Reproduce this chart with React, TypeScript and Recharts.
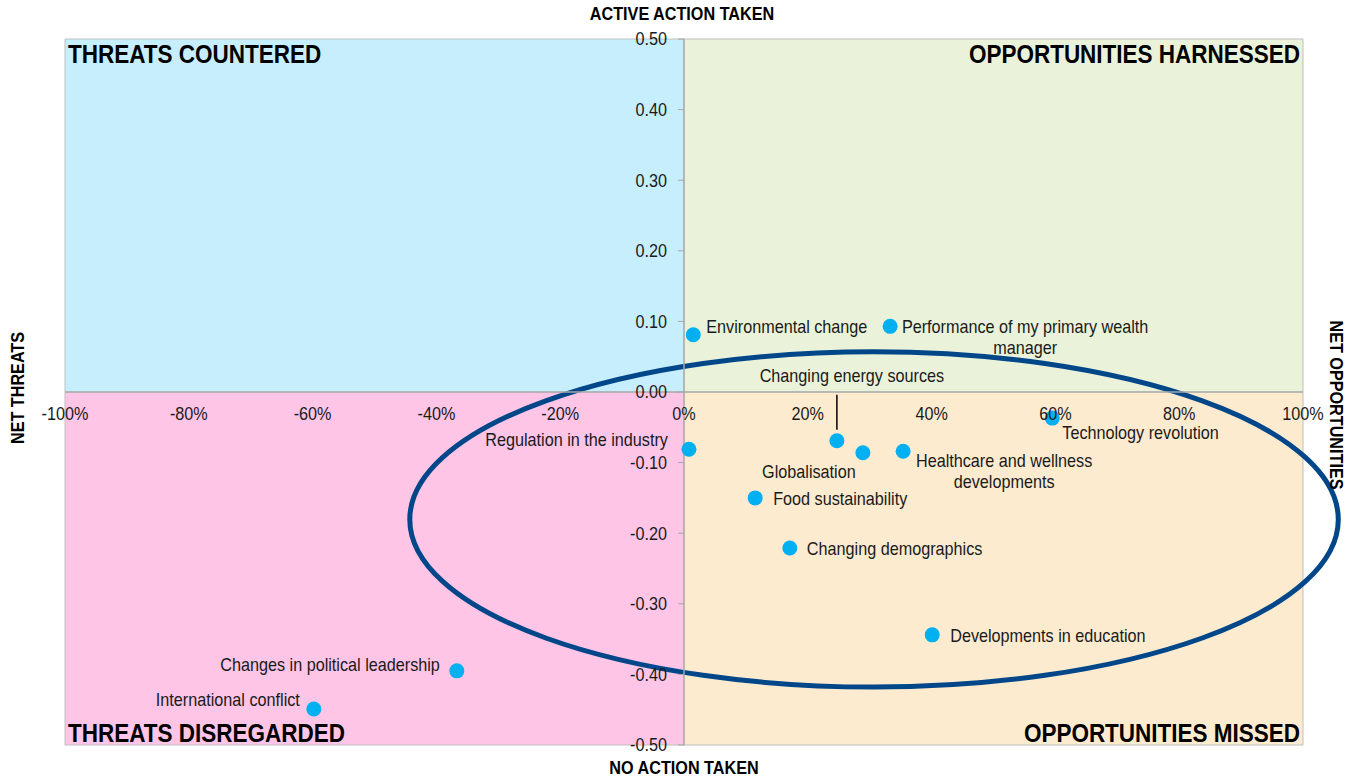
import { ScatterChart, Scatter, XAxis, YAxis, ReferenceArea, ReferenceLine } from 'recharts'

const names = [
    'Environmental change',
    'Performance of my primary wealth manager',
    'Technology revolution',
    'Regulation in the industry',
    'Changing energy sources',
    'Globalisation',
    'Healthcare and wellness developments',
    'Food sustainability',
    'Changing demographics',
    'Developments in education',
    'Changes in political leadership',
    'International conflict',
]
const actionValues = [0.015, 0.333, 0.595, 0.008, 0.247, 0.289, 0.354, 0.115, 0.171, 0.401, -0.367, -0.598]
const netValues = [0.081, 0.093, -0.037, -0.081, -0.069, -0.086, -0.084, -0.150, -0.221, -0.344, -0.395, -0.449]

const xTicks = [-1, -0.8, -0.6, -0.4, -0.2, 0, 0.2, 0.4, 0.6, 0.8, 1]
const yTicks = [0.5, 0.4, 0.3, 0.2, 0.1, 0, -0.1, -0.2, -0.3, -0.4, -0.5]

// highlighted cluster (ellipse bounds in data units)
const ringX = [-0.443, 1.057]
const ringY = [0.057, -0.418]

const data = names.map((name, i) => ({ name, x: actionValues[i], y: netValues[i] }))

const W = 1346
const H = 778
const AXIS_H = 30
const AXIS_W = 30
const MARGIN = { top: 39, right: 43, bottom: 33 - AXIS_H, left: 65 - AXIS_W }
const PLOT_W = W - 65 - MARGIN.right
const PLOT_H = H - MARGIN.top - 33
const FONT = 'Arial, "Liberation Sans", sans-serif'
const TXT = '#1a1a1a'
const SQUEEZE = 0.9

// narrow-looking text: regular sans squeezed horizontally
const NText = (props: any) => {
    const { x, y, anchor = 'start', size = 18, weight = 400, fill = TXT, lines, rotate = 0 } = props
    return (
        <g transform={`translate(${x} ${y}) rotate(${rotate}) scale(${SQUEEZE} 1)`}>
            <text x={0} y={0} textAnchor={anchor} dominantBaseline="central"
                fontFamily={FONT} fontSize={size} fontWeight={weight} fill={fill}>
                {lines.map((l: string, i: number) => (
                    <tspan key={i} x={0} dy={i === 0 ? 0 : 21}>{l}</tspan>
                ))}
            </text>
        </g>
    )
}

// label placement per point: dx, dy, anchor, optional line break, leader line
const placement: Record<string, any> = {
    'Environmental change': { dx: 13, dy: -8, anchor: 'start' },
    'Performance of my primary wealth manager': { dx: 135, dy: 0, anchor: 'middle', lines: ['Performance of my primary wealth', 'manager'] },
    'Technology revolution': { dx: 10, dy: 15, anchor: 'start' },
    'Regulation in the industry': { dx: -21, dy: -9, anchor: 'end' },
    'Changing energy sources': { dx: 15, dy: -65, anchor: 'middle', leader: true },
    'Globalisation': { dx: -54, dy: 19, anchor: 'middle' },
    'Healthcare and wellness developments': { dx: 101, dy: 9, anchor: 'middle', lines: ['Healthcare and wellness', 'developments'] },
    'Food sustainability': { dx: 18, dy: 1, anchor: 'start' },
    'Changing demographics': { dx: 17, dy: 1, anchor: 'start' },
    'Developments in education': { dx: 18, dy: 1, anchor: 'start' },
    'Changes in political leadership': { dx: -17, dy: -6, anchor: 'end' },
    'International conflict': { dx: -14, dy: -9, anchor: 'end' },
}

const PointShape = (props: any) => {
    const { cx, cy, payload } = props
    const p = placement[payload.name] || { dx: 12, dy: 0, anchor: 'start' }
    return (
        <g>
            {p.leader && <line x1={cx} y1={cy - 11} x2={cx} y2={cy - 46} stroke="#000" strokeWidth={1.5} />}
            <circle cx={cx} cy={cy} r={7.5} fill="#00B0F0" />
            <NText x={cx + p.dx} y={cy + p.dy} anchor={p.anchor} lines={p.lines || [payload.name]} />
        </g>
    )
}

const XTick = (props: any) => {
    const { x, payload } = props
    const y0 = MARGIN.top + PLOT_H / 2
    return <NText x={x} y={y0 + 22} anchor="middle" lines={[Math.round(payload.value * 100) + '%']} />
}

const YTick = (props: any) => {
    const { y, payload } = props
    const x0 = 65 + PLOT_W / 2
    return (
        <g>
            <line x1={x0 - 6} x2={x0} y1={y} y2={y} stroke="#A6A6A6" />
            <NText x={x0 - 17} y={y} anchor="end" lines={[payload.value.toFixed(2)]} />
        </g>
    )
}

const Ring = (props: any) => {
    const { x, y, width, height } = props
    return (
        <ellipse cx={x + width / 2} cy={y + height / 2} rx={Math.abs(width) / 2} ry={Math.abs(height) / 2}
            fill="none" stroke="#00478A" strokeWidth={5} />
    )
}

const quadTitle = (text: string, corner: string) => (props: any) => {
    const vb = props.viewBox
    const left = corner.endsWith('Left')
    const top = corner.startsWith('top')
    const x = left ? vb.x + 3 : vb.x + vb.width - 3
    const y = top ? vb.y + 15 : vb.y + vb.height - 12
    return <NText x={x} y={y} anchor={left ? 'start' : 'end'} size={25} weight={700} fill="#000" lines={[text]} />
}

const axisTitle = (text: string, where: string) => (props: any) => {
    const vb = props.viewBox
    const common = { size: 18, weight: 700, fill: '#000', anchor: 'middle', lines: [text] }
    if (where === 'top') return <NText x={vb.x - 2} y={MARGIN.top - 25} {...common} />
    if (where === 'bottom') return <NText x={vb.x} y={H - 10} {...common} />
    if (where === 'left') return <NText x={18} y={vb.y - 4} rotate={-90} {...common} />
    return <NText x={1336} y={vb.y + 13} rotate={90} {...common} />
}

export default function App() {
    return (
        <div style={{ position: 'absolute', left: 0, top: 0, background: '#fff' }}>
            <ScatterChart width={W} height={H} margin={MARGIN}>
                <XAxis type="number" dataKey="x" domain={[-1, 1]} ticks={xTicks} interval={0} height={AXIS_H}
                    axisLine={false} tickLine={false} tick={(p: any) => <XTick {...p} />} allowDataOverflow />
                <YAxis type="number" dataKey="y" domain={[-0.5, 0.5]} ticks={yTicks} interval={0} width={AXIS_W}
                    axisLine={false} tickLine={false} tick={(p: any) => <YTick {...p} />} allowDataOverflow />
                <ReferenceArea x1={-1} x2={0} y1={0} y2={0.5} fill="#C7EEFC" fillOpacity={1} stroke="none"
                    label={quadTitle('THREATS COUNTERED', 'topLeft')} />
                <ReferenceArea x1={0} x2={1} y1={0} y2={0.5} fill="#EAF2DA" fillOpacity={1} stroke="none"
                    label={quadTitle('OPPORTUNITIES HARNESSED', 'topRight')} />
                <ReferenceArea x1={-1} x2={0} y1={-0.5} y2={0} fill="#FEC5E7" fillOpacity={1} stroke="none"
                    label={quadTitle('THREATS DISREGARDED', 'bottomLeft')} />
                <ReferenceArea x1={0} x2={1} y1={-0.5} y2={0} fill="#FDEBD0" fillOpacity={1} stroke="none"
                    label={quadTitle('OPPORTUNITIES MISSED', 'bottomRight')} />
                <ReferenceArea x1={-1} x2={1} y1={-0.5} y2={0.5} fill="none" stroke="#BFBFBF" />
                <ReferenceLine x={0} stroke="#A6A6A6" strokeWidth={1.5} label={axisTitle('ACTIVE ACTION TAKEN', 'top')} />
                <ReferenceLine x={0} stroke="none" label={axisTitle('NO ACTION TAKEN', 'bottom')} />
                <ReferenceLine y={0} stroke="#A6A6A6" strokeWidth={1.5} label={axisTitle('NET THREATS', 'left')} />
                <ReferenceLine y={0} stroke="none" label={axisTitle('NET OPPORTUNITIES', 'right')} />
                <ReferenceArea x1={ringX[0]} x2={ringX[1]} y1={ringY[0]} y2={ringY[1]} ifOverflow="visible" shape={<Ring />} />
                <Scatter data={data} shape={<PointShape />} isAnimationActive={false} />
            </ScatterChart>
        </div>
    )
}
